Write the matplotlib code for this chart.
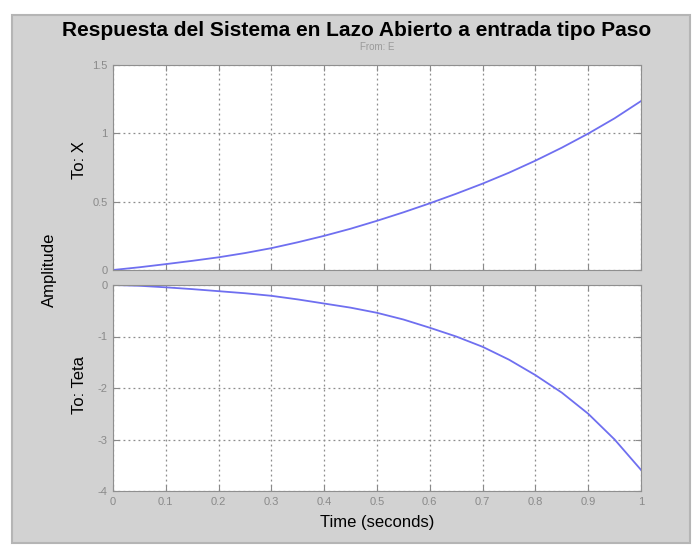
import numpy as np
import matplotlib
matplotlib.use("Agg")
import matplotlib.pyplot as plt
from matplotlib.patches import Rectangle

plt.rcParams['font.family'] = ['Liberation Sans', 'DejaVu Sans']

# step response of the open-loop system, input E
t = [0.0, 0.05, 0.1, 0.15, 0.2, 0.25, 0.3, 0.35, 0.4, 0.45, 0.5,
     0.55, 0.6, 0.65, 0.7, 0.75, 0.8, 0.85, 0.9, 0.95, 1.0]
x_resp = [0.0, 0.02, 0.043, 0.067, 0.093, 0.124, 0.16, 0.203, 0.25, 0.302, 0.36,
          0.422, 0.488, 0.558, 0.632, 0.712, 0.80, 0.895, 0.998, 1.11, 1.236]
teta_resp = [0.0, -0.015, -0.045, -0.08, -0.12, -0.16, -0.21, -0.28, -0.36, -0.44, -0.54,
             -0.67, -0.83, -1.0, -1.2, -1.45, -1.75, -2.09, -2.5, -3.0, -3.59]

x_ticks = [0, 0.1, 0.2, 0.3, 0.4, 0.5, 0.6, 0.7, 0.8, 0.9, 1]
x_ticklabels = ['0', '0.1', '0.2', '0.3', '0.4', '0.5', '0.6', '0.7', '0.8', '0.9', '1']
top_yticks = [0, 0.5, 1, 1.5]
top_ylabels = ['0', '0.5', '1', '1.5']
bot_yticks = [-4, -3, -2, -1, 0]
bot_ylabels = ['-4', '-3', '-2', '-1', '0']

bg = '#d2d2d2'
tick_col = '#8a8a8a'
line_col = '#6f6ff0'

fig = plt.figure(figsize=(7, 5.47), dpi=100)
fig.patch.set_facecolor('white')
fig.patches.append(Rectangle((12 / 700, 1 - 543 / 547), 678 / 700, 528 / 547,
                             transform=fig.transFigure, facecolor=bg,
                             edgecolor='#b5b5b5', linewidth=1.5, zorder=-10))

ax1 = fig.add_axes([113 / 700, 1 - 270 / 547, 528 / 700, 205 / 547])
ax2 = fig.add_axes([113 / 700, 1 - 491 / 547, 528 / 700, 206 / 547])

for ax, y, yt, yl, lim in [(ax1, x_resp, top_yticks, top_ylabels, (0, 1.5)),
                           (ax2, teta_resp, bot_yticks, bot_ylabels, (-4, 0))]:
    ax.plot(t, y, color=line_col, linewidth=1.3)
    ax.set_xlim(0, 1)
    ax.set_ylim(*lim)
    ax.set_xticks(x_ticks)
    ax.set_yticks(yt)
    ax.set_yticklabels(yl)
    ax.grid(True, linestyle=(0, (1.5, 2.5)), color='#8c8c8c', linewidth=0.9)
    ax.tick_params(direction='in', length=4, colors=tick_col, labelsize=8,
                   top=True, right=True, pad=4)
    for s in ax.spines.values():
        s.set_color('#8f8f8f')
        s.set_linewidth(0.8)

ax1.set_xticklabels([])
ax2.set_xticklabels(x_ticklabels)

fig.text(357 / 700, 1 - 30 / 547, 'Respuesta del Sistema en Lazo Abierto a entrada tipo Paso',
         ha='center', va='center', fontsize=15, fontweight='bold', color='black')
fig.text(377 / 700, 1 - 47 / 547, 'From: E', ha='center', va='center',
         fontsize=7, color='#9a9a9a')
fig.text(377 / 700, 1 - 522 / 547, 'Time (seconds)', ha='center', va='center',
         fontsize=12, color='black')
fig.text(49 / 700, 1 - 270 / 547, 'Amplitude', ha='center', va='center',
         rotation=90, fontsize=12, color='black')
fig.text(79 / 700, 1 - 160 / 547, 'To: X', ha='center', va='center',
         rotation=90, fontsize=12, color='black')
fig.text(79 / 700, 1 - 385 / 547, 'To: Teta', ha='center', va='center',
         rotation=90, fontsize=12, color='black')

fig.savefig('out.png', dpi=100, facecolor=fig.get_facecolor())
